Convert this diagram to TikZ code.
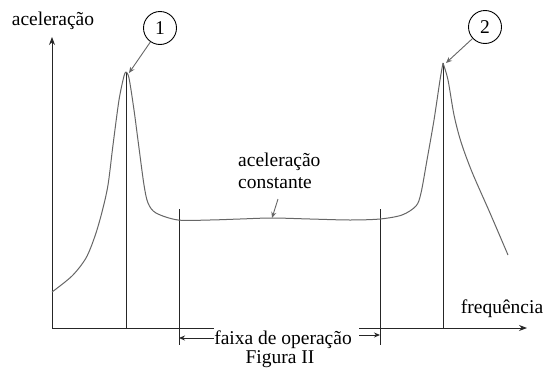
\documentclass[tikz,border=0pt]{standalone}
\usepackage{fontspec}
\setmainfont{Liberation Serif}
\newfontfamily\tnrfont{Liberation Serif}
\usetikzlibrary{arrows.meta}
\begin{document}
\begin{tikzpicture}[x=1pt,y=-1pt,
  ax/.style={line width=0.9pt, black!85},
  crv/.style={line width=1pt, black!60},
  lbl/.style={font=\tnrfont\fontsize{19.5}{22}\selectfont, inner sep=0pt},
  num/.style={draw, circle, minimum size=33pt, inner sep=0pt, line width=0.9pt, font=\tnrfont\fontsize{19.5}{22}\selectfont},
  tip/.style={-{Stealth[length=8pt,width=6pt]}},
  smalltip/.style={-{Stealth[length=6pt,width=5pt]}}
]
\useasboundingbox (0,0) rectangle (551,367);
% axes
\coordinate (O) at (52,328);
\coordinate (Ytop) at (52,37);
\coordinate (Xl) at (214,328);
\coordinate (Xr) at (359,328);
\coordinate (Xend) at (527,328);
\draw[ax, tip] (O) -- (Ytop);
\draw[ax] (O) -- (Xl);
\draw[ax, tip] (Xr) -- (Xend);
% peaks and vertical lines
\coordinate (P1) at (126,72);
\coordinate (P2) at (443,63);
\draw[ax] (P1) -- (P1 |- O);
\draw[ax] (P2) -- (P2 |- O);
\coordinate (B1t) at (179,209);
\coordinate (B1b) at (179,345);
\coordinate (B2t) at (380,209);
\coordinate (B2b) at (380,345);
\draw[ax] (B1t) -- (B1b);
\draw[ax] (B2t) -- (B2b);
% band arrows
\coordinate (A1) at (214,338);
\coordinate (A2) at (359,335);
\draw[ax, smalltip] (A1) -- (A1 -| B1t);
\draw[ax, smalltip] (A2) -- (A2 -| B2t);
% curve
\draw[crv] plot[smooth, tension=0.5] coordinates {
  (52,292) (72,276) (86,258) (95,236) (102,212) (108,185) (113,145) (119,100) (124,76) (126,72)};
\draw[crv] plot[smooth, tension=0.5] coordinates {
  (126,72) (129,78) (134,110) (139,148) (144,185) (148,203) (156,213) (178,220) (210,220) (240,219) (272,218) (310,219) (350,220) (380,219) (402,215) (416,206) (421,193) (427,160) (434,120) (440,80) (443,63)};
\draw[crv] plot[smooth, tension=0.5] coordinates {
  (443,63) (448,80) (454,115) (461,142) (472,172) (490,213) (508,255)};
% labels
\node[lbl, anchor=base] (ya) at (53,25) {aceleração};
\node[lbl, anchor=base] (xa) at (502,313) {frequência};
\node[lbl, anchor=base] (fx) at (283,344) {faixa de operação};
\node[lbl, anchor=base] (fig) at (280,363) {Figura II};
\node[lbl, anchor=base west] (ac1) at (238,166) {aceleração};
\node[lbl, anchor=base west] (ac2) at (238,188) {constante};
\coordinate (Cs) at (278,199);
\coordinate (C) at (272,218);
\draw[crv, line width=0.9pt, smalltip] (Cs) -- (C);
% circled numbers
\node[num] (n1) at (160,28) {1};
\node[num] (n2) at (485,27) {2};
\coordinate (P1a) at (129,73);
\coordinate (P2a) at (446,63);
\draw[crv, line width=0.9pt, smalltip] (n1) -- (P1a);
\draw[crv, line width=0.9pt, smalltip] (n2) -- (P2a);
\end{tikzpicture}
\end{document}
